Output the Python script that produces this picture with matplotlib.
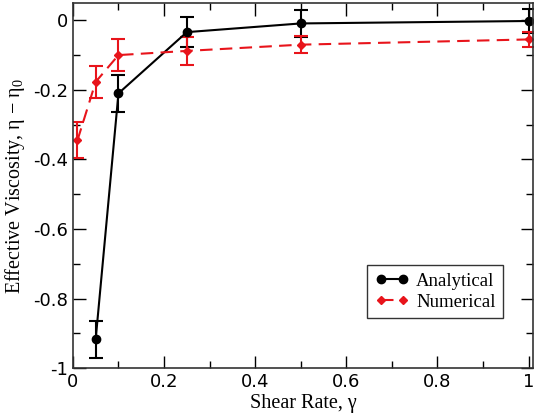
import numpy as np
import matplotlib
matplotlib.use('Agg')
import matplotlib.pyplot as plt
from matplotlib.ticker import MultipleLocator
from matplotlib.lines import Line2D

plt.rcParams['mathtext.fontset'] = 'custom'
plt.rcParams['mathtext.rm'] = 'Liberation Serif'
plt.rcParams['mathtext.it'] = 'Liberation Serif:italic'

# shear rate vs effective viscosity
x_an = [0.05, 0.1, 0.25, 0.5, 1.0]
y_an = [-0.917, -0.21, -0.034, -0.009, -0.002]
e_an = [0.053, 0.053, 0.043, 0.04, 0.034]

x_num = [0.01, 0.05, 0.1, 0.25, 0.5, 1.0]
y_num = [-0.345, -0.177, -0.1, -0.088, -0.07, -0.055]
e_num = [0.052, 0.045, 0.045, 0.04, 0.025, 0.021]

red = '#e8141b'
dash = (0, (6, 3.5))

fig = plt.figure(figsize=(5.44, 4.16), dpi=100)
ax = fig.add_axes([0.134, 0.115, 0.846, 0.878])

ax.errorbar(x_an, y_an, yerr=e_an, color='black', marker='o', markersize=6,
            linewidth=1.5, capsize=5, capthick=1.5, elinewidth=1.5)
ax.errorbar(x_num, y_num, yerr=e_num, color=red, marker='D', markersize=4,
            linewidth=1.5, linestyle=dash, capsize=5, capthick=1.5,
            elinewidth=1.5)

ax.set_xlim(0, 1.01)
ax.set_ylim(-1, 0.05)
ax.xaxis.set_major_locator(MultipleLocator(0.2))
ax.xaxis.set_minor_locator(MultipleLocator(0.1))
ax.yaxis.set_major_locator(MultipleLocator(0.2))
ax.yaxis.set_minor_locator(MultipleLocator(0.1))
ax.xaxis.set_major_formatter(plt.FuncFormatter(lambda v, p: '%g' % round(v, 2)))
ax.yaxis.set_major_formatter(plt.FuncFormatter(lambda v, p: '%g' % round(v, 2)))
ax.tick_params(which='both', direction='in', top=True, right=True, labelsize=13)
ax.tick_params(which='major', length=9, width=1)
ax.tick_params(which='minor', length=5, width=1)
for s in ax.spines.values():
    s.set_linewidth(1.2)
    s.set_color('#333333')

ax.set_xlabel('Shear Rate, γ', family='Liberation Serif', fontsize=14.5, labelpad=2)
ax.set_ylabel('Effective Viscosity, η − η$_\\mathrm{0}$', family='Liberation Serif', fontsize=14.5)

handles = [Line2D([], [], color='black', marker='o', markersize=6, linewidth=1.5),
           Line2D([], [], color=red, marker='D', markersize=4, linewidth=1.5, linestyle=dash)]
leg = ax.legend(handles, ['Analytical', 'Numerical'], loc='lower right',
                bbox_to_anchor=(0.935, 0.137), fancybox=False, numpoints=2,
                edgecolor='#333333', framealpha=1, handlelength=1.8, handletextpad=0.4,
                prop={'family': 'Liberation Serif', 'size': 13.5}, borderpad=0.4,
                labelspacing=0.2, borderaxespad=0)
leg.get_frame().set_linewidth(1.0)

fig.savefig('out.png', dpi=100)
